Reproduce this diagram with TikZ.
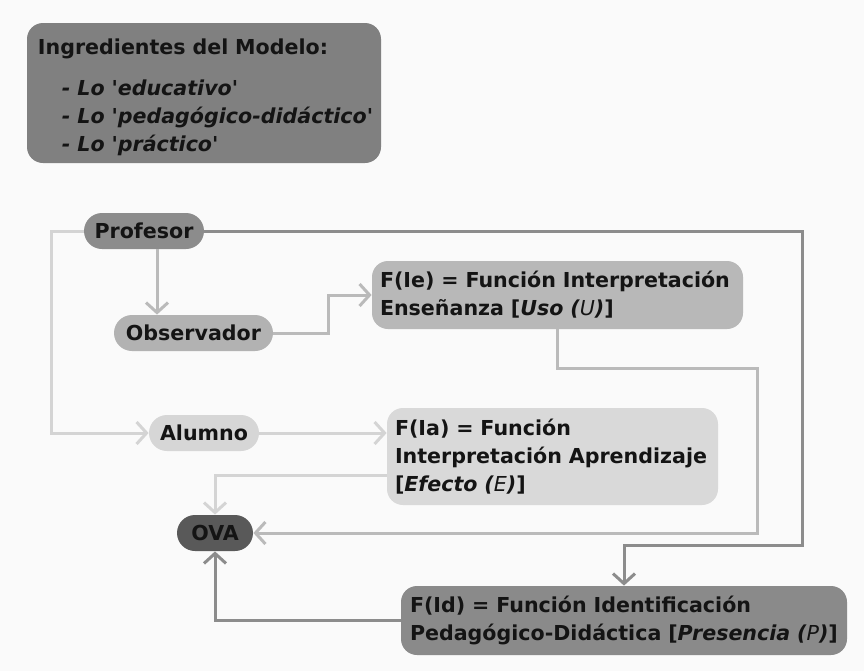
\documentclass[tikz,border=0pt]{standalone}
\usepackage{fontspec}
\setmainfont{DejaVu Sans}
\usetikzlibrary{arrows.meta, positioning}

\begin{document}
\begin{tikzpicture}[
    x=0.5pt, y=-0.5pt,
    every node/.style={font=\bfseries\fontsize{10.3}{14}\selectfont, text=black!92},
    pill/.style={rectangle, rounded corners=9pt, minimum height=18pt, inner sep=0pt},
    fbox/.style={rectangle, rounded corners=8pt, align=left, inner xsep=4pt, inner ysep=0pt},
    lightline/.style={draw=black!17, line width=1.5pt},
    medline/.style={draw=black!27, line width=1.5pt},
    darkline/.style={draw=black!45, line width=1.5pt},
    tip/.style={-{Straight Barb[length=5pt,width=11pt]}}
]
    % Background
    \fill[black!2] (0,0) rectangle (864,671);

    % Model ingredients
    \node[fbox, fill=black!50, rounded corners=8pt, inner xsep=5.5pt, minimum width=177pt, minimum height=70pt, text width=166pt] (ingredientes) at (204,93)
        {\rule{0pt}{12pt}Ingredientes del Modelo:\\[6.5pt]
         \mbox{\hspace*{12pt}\textit{- Lo \textquotesingle educativo\textquotesingle}}\\
         \mbox{\hspace*{12pt}\textit{- Lo \textquotesingle pedagógico-didáctico\textquotesingle}}\\
         \mbox{\hspace*{12pt}\textit{- Lo \textquotesingle práctico\textquotesingle}}};

    % Actors
    \node[pill, fill=black!45, minimum width=60pt] (profesor) at (144,231) {Profesor};
    \node[pill, fill=black!30, minimum width=79.5pt] (observador) at (193.5,333) {Observador};
    \node[pill, fill=black!16, minimum width=55pt] (alumno) at (204,433) {Alumno};
    \node[pill, fill=black!65, minimum width=38pt] (ova) at (215,533) {OVA};

    % Functions
    \node[fbox, fill=black!28, minimum width=185.5pt, minimum height=34pt, text width=177.5pt] (fie) at (557.5,295)
        {F(Ie) = Función Interpretación\\Enseñanza [\textit{Uso (\textmd{U})}]};
    \node[fbox, fill=black!15, minimum width=165.5pt, minimum height=48.5pt, text width=157.5pt] (fia) at (552.5,456.5)
        {F(Ia) = Función\\Interpretación Aprendizaje\\{}[\textit{Efecto (\textmd{E})}]};
    \node[fbox, fill=black!46, minimum width=223pt, minimum height=34.5pt, text width=214pt] (fid) at (624,620.5)
        {F(Id) = Función Identificación\\Pedagógico-Didáctica [\textit{Presencia (\textmd{P})}]};

    % Connections
    \draw[lightline, tip] (profesor.west) -- ++(-16pt,0) |- (alumno.west);
    \draw[medline, tip] ([xshift=6.5pt]profesor.south) -- ([xshift=6.5pt]profesor.south |- observador.north);
    \draw[medline, tip] (observador.east) -- ++(27.5pt,0) |- (fie.west);
    \draw[darkline, tip] (profesor.east) -| (802,545) -| (fid.north);

    \draw[medline, tip] (fie.south) |- (757,368) |- (ova.east);
    \draw[lightline, tip] (alumno.east) -- (alumno.east -| fia.west);
    \draw[lightline, tip] (fia.west |- 0,475) -| (ova.north);
    \draw[darkline, tip] (fid.west) -| (ova.south);
\end{tikzpicture}
\end{document}
